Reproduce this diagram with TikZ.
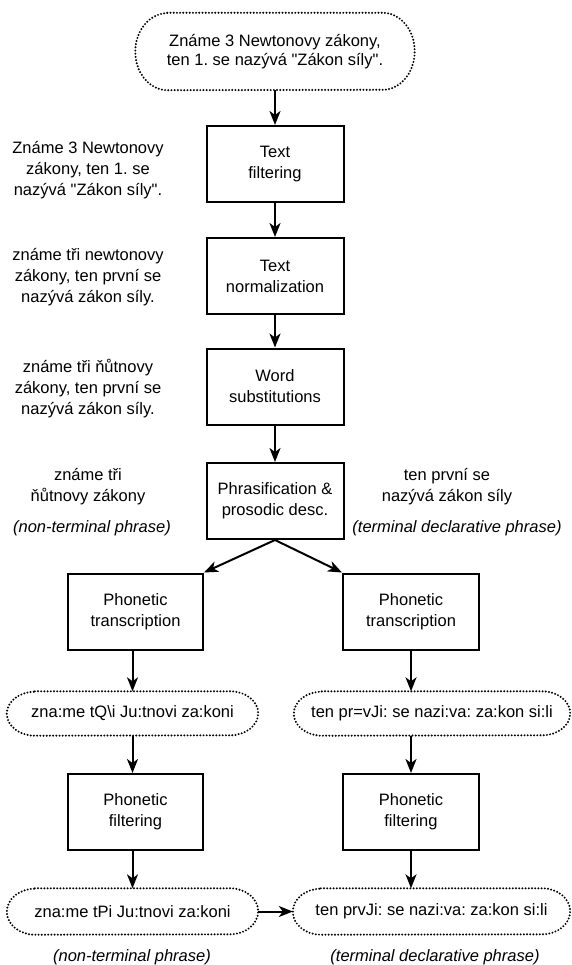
\documentclass[tikz,border=0pt]{standalone}
\usepackage{fontspec}
\setmainfont{Liberation Sans}[Ligatures=TeXOff]
\usetikzlibrary{arrows.meta,calc}
\frenchspacing
\newcommand\fs{\fontsize{16.5}{21}\selectfont\frenchspacing}
\newcommand\fstop{\fontsize{16.5}{19}\selectfont\frenchspacing}
\tikzset{
  procbox/.style={draw, line width=2pt, minimum width=137pt, minimum height=76pt, align=center, font=\fs, inner sep=0pt},
  lbl/.style={align=center, font=\fs, inner sep=0pt},
  itl/.style={align=center, font=\fs\itshape, inner sep=0pt},
  ovaltext/.style={align=center, font=\fs, inner sep=0pt, draw=none},
  arr/.style={line width=2pt, -{Stealth[length=14pt,width=11pt,inset=4pt]}},
  dotline/.style={line width=2.2pt, dash pattern=on 0pt off 3.2pt, line cap=round}
}
% #1 options, #2 name, #3 position, #4 width, #5 height, #6 end radius, #7 text
\newcommand\dotoval[7][]{%
  \node[ovaltext, minimum width=#4pt, minimum height=#5pt, #1] (#2) at #3 {#7};
  \draw[dotline] ([xshift=#6pt]#2.north west) -- ([xshift=-#6pt]#2.north east)
    arc[start angle=90, end angle=-90, x radius=#6pt, y radius=#5pt/2]
    -- ([xshift=#6pt]#2.south west)
    arc[start angle=270, end angle=90, x radius=#6pt, y radius=#5pt/2] -- cycle;
}
\begin{document}
\begin{tikzpicture}[x=1pt, y=-1pt]
\useasboundingbox (0,0) rectangle (571,965);

\dotoval[font=\fstop]{top}{(275,51.5)}{279}{77}{32}{Známe 3 Newtonovy zákony,\\ten 1. se nazývá "Zákon síly".}

\node[procbox] (b1) at (275,164) {Text\\filtering};
\node[procbox] (b2) at (275,276) {Text\\normalization};
\node[procbox] (b3) at (275,386.5) {Word\\substitutions};
\node[procbox] (b4) at (275,501) {Phrasification \&\\prosodic desc.};

\node[procbox, minimum width=135pt] (tl) at (135.5,611.5) {Phonetic\\transcription};
\node[procbox, minimum width=136pt] (tr) at (411,611.5) {Phonetic\\transcription};

\dotoval{pl}{(132.5,713.5)}{251}{44}{28}{zna:me tQ\textbackslash i Ju:tnovi za:koni}
\dotoval{pr}{(432,713.5)}{276}{44}{28}{ten pr=vJi: se nazi:va: za:kon si:li}

\node[procbox, minimum width=135pt] (fl) at (135.5,812) {Phonetic\\filtering};
\node[procbox, minimum width=136pt] (fr) at (411,812) {Phonetic\\filtering};

\dotoval{ql}{(132.5,911.5)}{251}{46}{28}{zna:me tPi Ju:tnovi za:koni}
\dotoval{qr}{(431.5,911.5)}{277}{46}{28}{ten prvJi: se nazi:va: za:kon si:li}

\node[lbl] (l1) at (88,170) {Známe 3 Newtonovy\\zákony, ten 1. se\\nazývá "Zákon síly".};
\node[lbl] (l2) at (88,277) {známe tři newtonovy\\zákony, ten první se\\nazývá zákon síly.};
\node[lbl] (l3) at (88,389) {známe tři ňůtnovy\\zákony, ten první se\\nazývá zákon síly.};
\node[lbl] (l4) at (88,486.5) {známe tři\\ňůtnovy zákony};
\node[itl] (l5) at (92,528) {(non-terminal phrase)};
\node[lbl] (r4) at (447,486.5) {ten první se\\nazývá zákon síly};
\node[itl] (r5) at (457,528) {(terminal declarative phrase)};
\node[itl] (bl) at (132,957) {(non-terminal phrase)};
\node[itl] (br) at (435,957) {(terminal declarative phrase)};

\draw[arr] (top.south) -- (b1.north);
\draw[arr] (b1.south) -- (b2.north);
\draw[arr] (b2.south) -- (b3.north);
\draw[arr] (b3.south) -- (b4.north);
\draw[arr] (b4.south) -- (tl.north east);
\draw[arr] (b4.south) -- (tr.north west);
\draw[arr] (tl.south -| pl.north) -- (pl.north);
\draw[arr] (tr.south) -- (tr.south |- pr.north);
\draw[arr] (pl.south) -- (pl.south |- fl.north);
\draw[arr] (pr.south -| fr.north) -- (fr.north);
\draw[arr] (fl.south -| ql.north) -- (ql.north);
\draw[arr] (fr.south) -- (fr.south |- qr.north);
\draw[arr] (ql.east) -- (qr.west);
\end{tikzpicture}
\end{document}
